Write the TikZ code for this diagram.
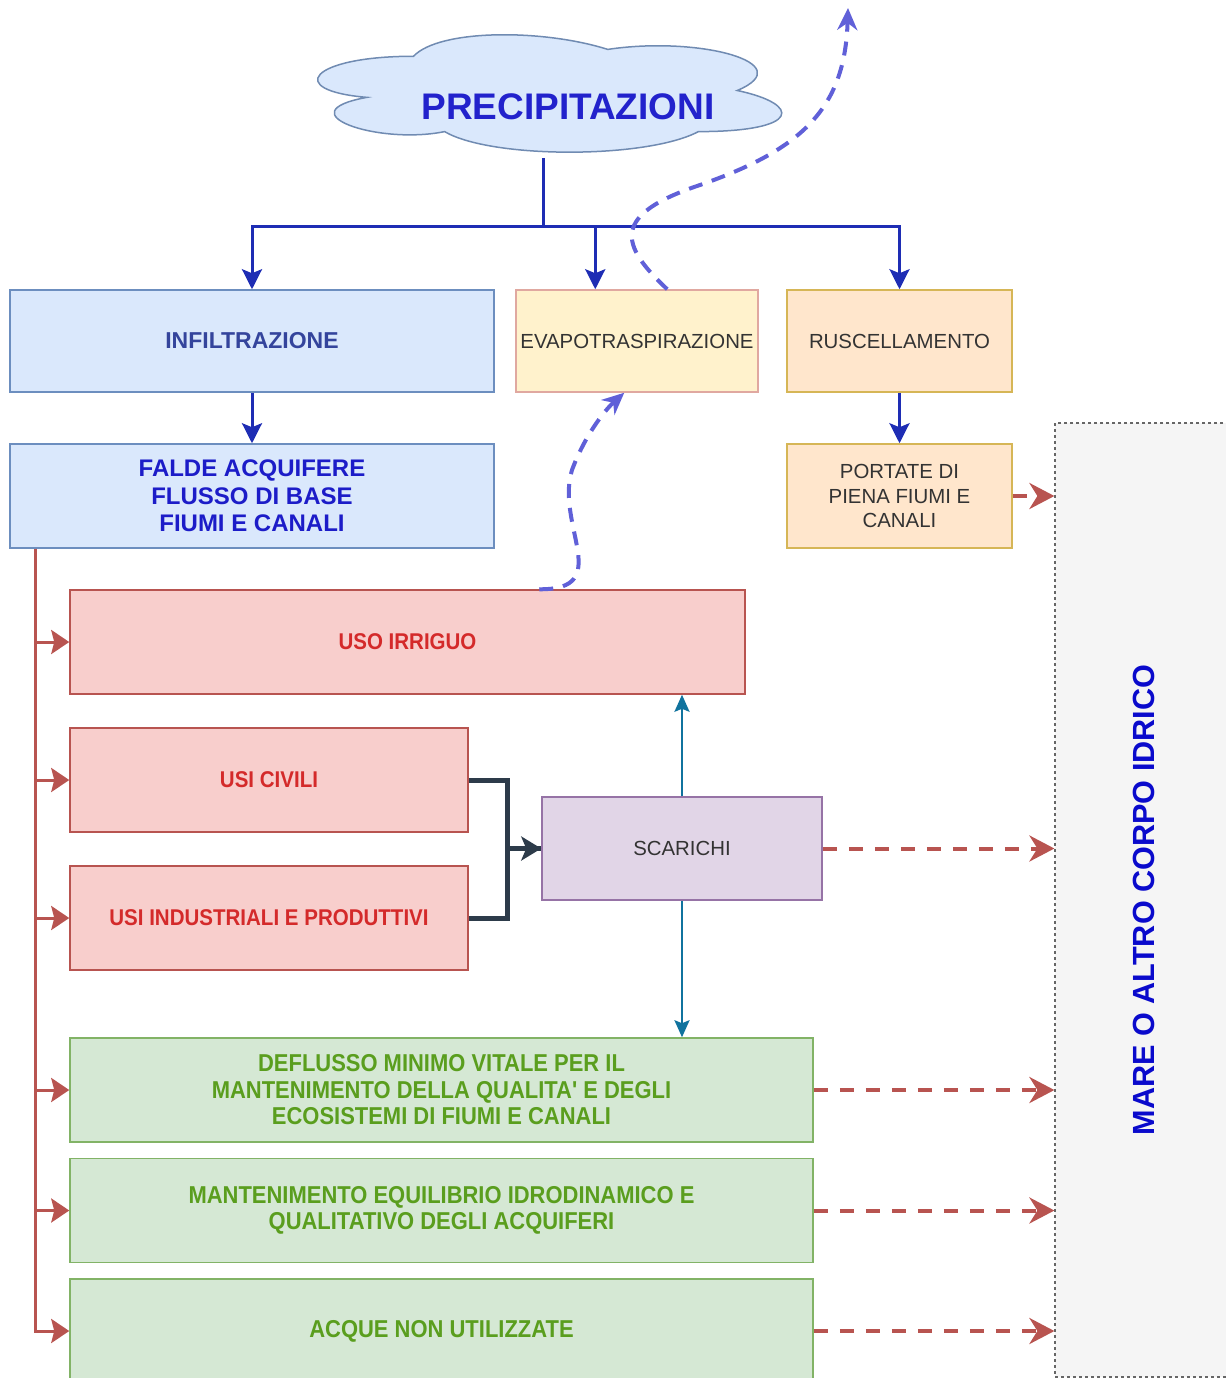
\documentclass[tikz,border=0pt]{standalone}
\usepackage{fontspec}
\usepackage{graphicx}
\setmainfont{Liberation Sans}
\newfontfamily\narrowfont[FakeStretch=0.9]{Liberation Sans}
\usetikzlibrary{arrows.meta}

\definecolor{bluefill}{HTML}{DAE8FC}
\definecolor{bluedraw}{HTML}{6C8EBF}
\definecolor{yelfill}{HTML}{FFF2CC}
\definecolor{yeldraw}{HTML}{E0A8A0}
\definecolor{orfill}{HTML}{FFE6CC}
\definecolor{ordraw}{HTML}{D6B656}
\definecolor{redfill}{HTML}{F8CECC}
\definecolor{reddraw}{HTML}{B85450}
\definecolor{purfill}{HTML}{E1D5E7}
\definecolor{purdraw}{HTML}{9673A6}
\definecolor{grfill}{HTML}{D5E8D4}
\definecolor{grdraw}{HTML}{82B366}
\definecolor{seafill}{HTML}{F5F5F5}
\definecolor{seadraw}{HTML}{666666}
\definecolor{treeblue}{HTML}{1E2DB4}
\definecolor{vapblue}{HTML}{6060D8}
\definecolor{darkslate}{HTML}{2D3B4A}
\definecolor{scarblue}{HTML}{10739E}
\definecolor{prectext}{HTML}{2222CC}
\definecolor{infiltext}{HTML}{34449C}
\definecolor{faldetext}{HTML}{1C1CC8}
\definecolor{redtext}{HTML}{D42A2A}
\definecolor{greentext}{HTML}{5A9E1E}
\definecolor{darktext}{HTML}{333333}
\definecolor{seatext}{HTML}{0A0ACC}

\tikzset{
	basebox/.style={draw, line width=0.75pt, align=center, inner sep=1pt},
	bluebox/.style={basebox, fill=bluefill, draw=bluedraw, text=infiltext, font=\bfseries\fontsize{11.5}{13.75}\selectfont},
	yelbox/.style={basebox, fill=yelfill, draw=yeldraw, text=darktext, font=\fontsize{10.2}{12.25}\selectfont},
	orbox/.style={basebox, fill=orfill, draw=ordraw, text=darktext, font=\fontsize{10.2}{12.25}\selectfont},
	redbox/.style={basebox, fill=redfill, draw=reddraw, text=redtext, font=\narrowfont\bfseries\fontsize{11.4}{13}\selectfont},
	purbox/.style={basebox, fill=purfill, draw=purdraw, text=darktext, font=\fontsize{10.2}{12.25}\selectfont},
	grbox/.style={basebox, fill=grfill, draw=grdraw, text=greentext, font=\narrowfont\bfseries\fontsize{12.2}{13.25}\selectfont},
	seabox/.style={basebox, fill=seafill, draw=seadraw, line width=0.6pt, dash pattern=on 1.5pt off 1.5pt, text=seatext, font=\bfseries\fontsize{15.3}{18}\selectfont},
	cloudtext/.style={minimum height=51pt, inner sep=0pt, text=prectext, font=\bfseries\fontsize{18.5}{22}\selectfont},
	blueline/.style={draw=treeblue, line width=1.5pt, >={Stealth[length=10pt,width=10pt,inset=2pt]}},
	redline/.style={draw=reddraw, line width=1.5pt, >={Stealth[length=9pt,width=12pt,inset=1.5pt]}},
	reddash/.style={draw=reddraw, line width=2pt, dash pattern=on 7pt off 6pt, >={Stealth[length=12.5pt,width=13pt,inset=4pt]}},
	darkline/.style={draw=darkslate, line width=2.5pt, >={Stealth[length=10pt,width=12pt,inset=2.5pt]}},
	tealline/.style={draw=scarblue, line width=1.25pt, >={Stealth[length=8.5pt,width=7.5pt,inset=1.5pt]}},
	vapline/.style={draw=vapblue, line width=2pt, dash pattern=on 7pt off 5pt, >={Stealth[length=11pt,width=10pt]}}
}

\begin{document}
\begin{tikzpicture}[x=0.5pt,y=-0.5pt]
	\useasboundingbox (0,0) rectangle (1226,1378);

	\node[seabox, minimum width=88.5pt, minimum height=477pt] (mare) at (1143.5,900) {\rotatebox{90}{MARE O ALTRO CORPO IDRICO}};

	\draw[fill=bluefill, draw=bluedraw!80!gray, line width=0.75pt] (413.5,56.25) .. controls (309.9,56.25) and (284,90.5) .. (366.9,97.35)
		.. controls (284,112.4) and (377.2,145.3) .. (444.6,131.6)
		.. controls (491.2,159) and (646.6,159) .. (698.4,131.6)
		.. controls (802,131.6) and (802,104.2) .. (737.25,90.5)
		.. controls (802,63.1) and (698.4,35.7) .. (607.75,49.4)
		.. controls (543,28.85) and (439.4,28.85) .. (413.5,56.25) -- cycle;
	\node[cloudtext] (prec) at (568,107) {PRECIPITAZIONI};

	\node[bluebox, minimum width=242pt, minimum height=51pt] (infil) at (252,341) {INFILTRAZIONE};
	\node[bluebox, text=faldetext, font=\bfseries\fontsize{12}{13.75}\selectfont, minimum width=242pt, minimum height=52pt] (falde) at (252,496) {FALDE ACQUIFERE\\FLUSSO DI BASE\\FIUMI E CANALI};
	\node[yelbox, minimum width=121pt, minimum height=51pt] (evapo) at (637,341) {EVAPOTRASPIRAZIONE};
	\node[orbox, minimum width=112.5pt, minimum height=51pt] (rusc) at (899.5,341) {RUSCELLAMENTO};
	\node[orbox, minimum width=112.5pt, minimum height=52pt] (portate) at (899.5,496) {PORTATE DI\\PIENA FIUMI E\\CANALI};

	\node[redbox, minimum width=337.5pt, minimum height=52pt] (irriguo) at (407.5,642) {USO IRRIGUO};
	\node[redbox, minimum width=199pt, minimum height=52pt] (civili) at (269,780) {USI CIVILI};
	\node[redbox, minimum width=199pt, minimum height=52pt] (indus) at (269,918) {USI INDUSTRIALI E PRODUTTIVI};
	\node[purbox, minimum width=140pt, minimum height=51.5pt] (scarichi) at (682,848.5) {SCARICHI};

	\node[grbox, minimum width=371.5pt, minimum height=52pt] (deflusso) at (441.5,1090) {DEFLUSSO MINIMO VITALE PER IL\\MANTENIMENTO DELLA QUALITA' E DEGLI\\ECOSISTEMI DI FIUMI E CANALI};
	\node[grbox, minimum width=371.5pt, minimum height=52pt] (mantenim) at (441.5,1210.5) {MANTENIMENTO EQUILIBRIO IDRODINAMICO E\\QUALITATIVO DEGLI ACQUIFERI};
	\node[grbox, minimum width=371.5pt, minimum height=52pt] (acque) at (441.5,1331) {ACQUE NON UTILIZZATE};

	\coordinate (split) at (543,226);
	\draw[blueline] (split |- prec.south) -- (split);
	\draw[blueline,->] (split) -| (infil.north);
	\draw[blueline,->] (split) -| ([xshift=40pt]evapo.north west);
	\draw[blueline,->] (split) -| (rusc.north);
	\draw[blueline,->] (infil) -- (falde);
	\draw[blueline,->] (rusc) -- (portate);

	\coordinate (trunk) at ([xshift=13pt]falde.south west);
	\foreach \n in {irriguo,civili,indus,deflusso,mantenim,acque}
		\draw[redline,->] (trunk) |- (\n.west);

	\draw[darkline,->] (civili.east) -- ++(39,0) |- (scarichi.west);
	\draw[darkline] (indus.east) -- ++(39,0) |- (scarichi.west);

	\draw[tealline,->] (scarichi.north) -- (scarichi.north |- irriguo.south);
	\draw[tealline,->] (scarichi.south) -- (scarichi.south |- deflusso.north);

	\foreach \n in {portate,scarichi,deflusso,mantenim,acque}
		\draw[reddash,->] (\n.east) -- (\n.east -| mare.west);

	\coordinate (vapor) at (848,8);
	\draw[vapline,->] ([xshift=76pt]evapo.north west) .. controls (620,245) and (610,215) .. (700,185) .. controls (800,150) and (845,110) .. (vapor);
	\draw[vapline,->] ([xshift=235pt]irriguo.north west) .. controls (615,590) and (555,525) .. (572,470) .. controls (585,435) and (605,410) .. ([xshift=54.5pt]evapo.south west);
\end{tikzpicture}
\end{document}
